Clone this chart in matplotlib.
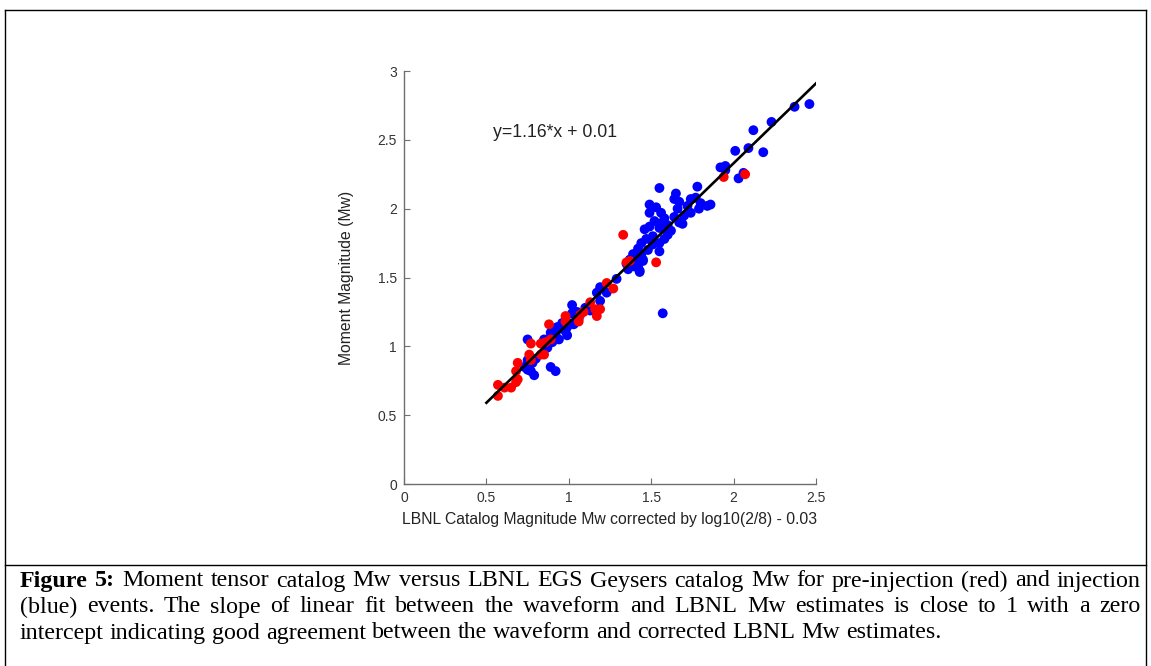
import matplotlib
matplotlib.use("Agg")
import matplotlib.pyplot as plt
import numpy as np

# injection events (blue)
inj_x = [2.46, 2.37, 2.23, 2.12, 2.09, 2.01, 2.18, 1.92, 1.95, 1.95, 2.06, 2.03,
         1.55, 1.78, 1.49, 1.53, 1.65, 1.64, 1.67, 1.74, 1.77, 1.72, 1.84, 1.79,
         1.49, 1.56, 1.58, 1.64, 1.74, 1.67, 1.69, 1.55, 1.49, 1.46, 1.55, 1.60,
         1.51, 1.55, 1.51, 1.55, 1.44, 1.42, 1.39, 1.44, 1.41, 1.45, 1.40, 1.43,
         1.36, 1.57, 1.29, 1.19, 1.17, 1.23, 1.19, 1.13, 1.45, 1.42, 1.43, 1.02,
         1.05, 1.02, 1.03, 0.99, 0.96, 0.95, 0.93, 0.91, 0.89, 0.98, 0.99, 0.94,
         0.87, 0.85, 0.90, 0.87, 0.75, 0.75, 0.75, 0.77, 0.79, 0.73, 0.89, 0.92,
         1.47, 1.62, 1.70, 1.80, 1.58, 1.48, 1.35, 1.37, 1.60, 1.66, 1.52, 1.86,
         1.10, 1.06, 0.97, 0.92, 1.00, 0.80, 0.78]
inj_y = [2.76, 2.74, 2.63, 2.57, 2.44, 2.42, 2.41, 2.30, 2.31, 2.28, 2.26, 2.22,
         2.15, 2.16, 2.03, 2.01, 2.11, 2.07, 2.05, 2.07, 2.08, 2.02, 2.02, 2.00,
         1.97, 1.97, 1.93, 1.94, 1.97, 1.90, 1.89, 1.89, 1.87, 1.85, 1.86, 1.81,
         1.80, 1.75, 1.74, 1.69, 1.75, 1.71, 1.67, 1.67, 1.63, 1.63, 1.58, 1.55,
         1.56, 1.24, 1.49, 1.43, 1.39, 1.39, 1.33, 1.26, 1.62, 1.58, 1.54, 1.30,
         1.25, 1.24, 1.16, 1.14, 1.17, 1.13, 1.14, 1.12, 1.10, 1.11, 1.08, 1.05,
         1.05, 1.05, 1.03, 0.99, 1.05, 0.90, 0.83, 0.82, 0.79, 0.85, 0.85, 0.82,
         1.78, 1.84, 1.95, 2.04, 1.78, 1.70, 1.60, 1.63, 1.88, 2.00, 1.91, 2.03,
         1.28, 1.20, 1.15, 1.09, 1.17, 0.91, 0.88]

# pre-injection events (red)
pre_x = [1.94, 2.07, 1.33, 1.35, 1.53, 1.27, 1.23, 1.13, 1.16, 1.19, 1.17, 1.07,
         1.06, 0.98, 0.98, 0.88, 0.89, 0.77, 0.83, 0.85, 0.83, 0.76, 0.69, 0.68,
         0.69, 0.68, 0.65, 0.61, 0.57, 0.57, 0.77, 1.37, 0.86, 1.09]
pre_y = [2.23, 2.25, 1.81, 1.61, 1.61, 1.42, 1.46, 1.32, 1.27, 1.27, 1.22, 1.23,
         1.18, 1.22, 1.18, 1.16, 1.05, 1.02, 1.02, 0.94, 0.94, 0.94, 0.88, 0.82,
         0.76, 0.74, 0.70, 0.70, 0.72, 0.64, 0.90, 1.62, 1.03, 1.25]

slope = 1.16
intercept = 0.01
fit_range = [0.5, 2.5]

caption_1 = ["Moment", "tensor", "catalog", "Mw", "versus", "LBNL", "EGS", "Geysers",
             "catalog", "Mw", "for", "pre-injection", "(red)", "and", "injection"]
caption_2 = "(blue) events. The slope of linear fit between the waveform and LBNL Mw estimates is close to 1 with a zero".split()
caption_3 = "intercept indicating good agreement between the waveform and corrected LBNL Mw estimates."

W, H = 1151, 666
fig = plt.figure(figsize=(W / 100, H / 100), dpi=100)
fig.patch.set_facecolor("white")

# frame around the figure and the caption
frame = dict(color="black", lw=1.0)
fig.add_artist(plt.Line2D([5 / W, 5 / W], [0, 1 - 10 / H], transform=fig.transFigure, **frame))
fig.add_artist(plt.Line2D([1146 / W, 1146 / W], [0, 1 - 10 / H], transform=fig.transFigure, **frame))
fig.add_artist(plt.Line2D([5 / W, 1146 / W], [1 - 10 / H, 1 - 10 / H], transform=fig.transFigure, **frame))
fig.add_artist(plt.Line2D([5 / W, 1146 / W], [1 - 565 / H, 1 - 565 / H], transform=fig.transFigure, **frame))

ax = fig.add_axes([404 / W, (H - 484) / H, (816 - 404) / W, (484 - 71) / H])
grey = "#6e6e6e"
ax.scatter(inj_x, inj_y, s=50, c="#0000ff", edgecolors="none", zorder=2)
ax.scatter(pre_x, pre_y, s=50, c="#ff0000", edgecolors="none", zorder=2)
fx = np.array(fit_range)
ax.plot(fx, slope * fx + intercept, color="black", lw=1.9, zorder=3)
ax.text(0.54, 2.55, "y=%.2f*x + %.2f" % (slope, intercept), fontsize=12.7,
        family="Liberation Sans", va="center", ha="left", color="#222222")

ax.set_xlim(0, 2.5)
ax.set_ylim(0, 3)
ax.set_xticks([0, 0.5, 1, 1.5, 2, 2.5])
ax.set_xticklabels(["0", "0.5", "1", "1.5", "2", "2.5"])
ax.set_yticks([0, 0.5, 1, 1.5, 2, 2.5, 3])
ax.set_yticklabels(["0", "0.5", "1", "1.5", "2", "2.5", "3"])
for side in ["top", "right"]:
    ax.spines[side].set_visible(False)
for side in ["left", "bottom"]:
    ax.spines[side].set_color(grey)
    ax.spines[side].set_linewidth(1.0)
ax.tick_params(direction="in", length=4, width=0.8, color=grey, labelcolor="#333333",
               labelsize=10, pad=5)
for lab in ax.get_xticklabels() + ax.get_yticklabels():
    lab.set_family("Liberation Sans")
ax.set_xlabel("LBNL Catalog Magnitude Mw corrected by log10(2/8) - 0.03",
              fontsize=11.3, family="Liberation Sans", color="#222222", labelpad=5)
ax.set_ylabel("Moment Magnitude (Mw)", fontsize=11.3, family="Liberation Sans",
              color="#222222", labelpad=17)

# justified caption lines, word by word
renderer = fig.canvas.get_renderer()
fs = 17.3
x_left, x_right = 20, 1141


def put_line(words, y_px, bold_n=0, justify=True):
    texts = []
    for i, w in enumerate(words):
        t = fig.text(0, 1 - y_px / H, w, fontsize=fs, family="Liberation Serif",
                     weight="bold" if i < bold_n else "normal", va="center", ha="left")
        texts.append(t)
    widths = [t.get_window_extent(renderer).width for t in texts]
    if justify and len(words) > 1:
        gap = (x_right - x_left - sum(widths)) / (len(words) - 1)
    else:
        gap = fs * 0.25 * 100 / 72
    x = x_left
    for t, w in zip(texts, widths):
        t.set_x(x / W)
        x += w + gap


put_line(["Figure", "5:"] + caption_1, 581, bold_n=2)
put_line(caption_2, 607)
put_line(caption_3.split(), 633, justify=False)

fig.savefig("out.png", dpi=100, facecolor="white")
